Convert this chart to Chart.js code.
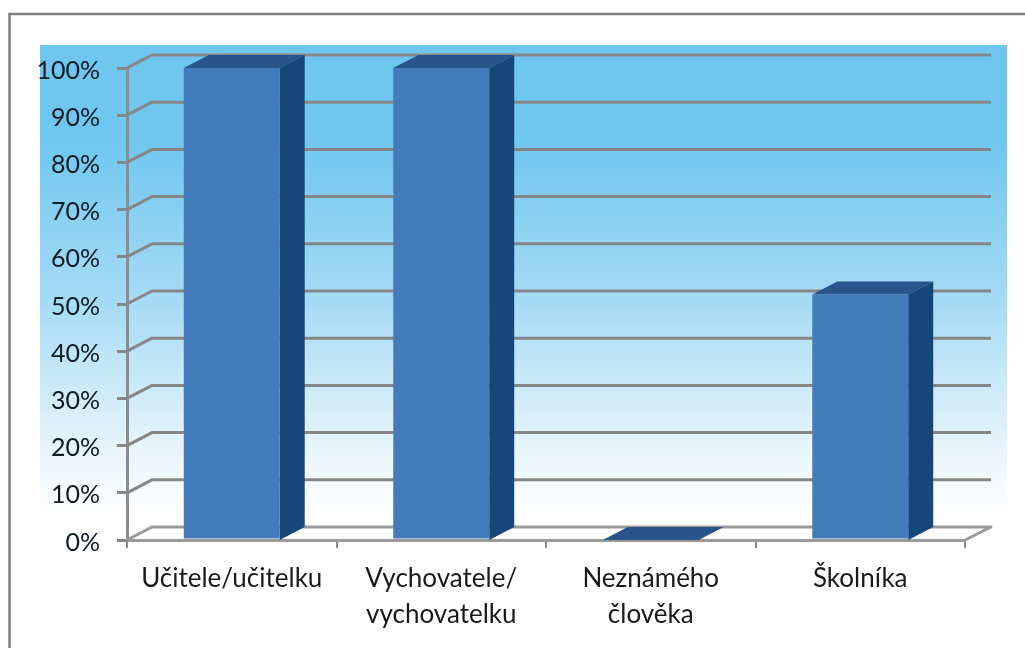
<!DOCTYPE html>
<html>
<head>
<meta charset="utf-8">
<script src="https://cdn.jsdelivr.net/npm/chart.js@4"></script>
<style>html,body{margin:0;padding:0;background:#fff}canvas{display:block}</style>
</head>
<body>
<canvas id="c" width="1025" height="648"></canvas>
<script>
const categories = [["Učitele/učitelku"], ["Vychovatele/", "vychovatelku"], ["Neznámého", "člověka"], ["Školníka"]];
const values = [100, 100, 0, 52];
const DX = 25, DY = -13;

const frame3d = {
  id: 'frame3d',
  beforeDraw(chart) {
    const c = chart.ctx;
    c.save();
    c.fillStyle = '#fff';
    c.fillRect(0, 0, 1025, 648);
    const g = c.createLinearGradient(0, 45, 0, 515);
    g.addColorStop(0, '#6EC5EE');
    g.addColorStop(0.2, '#6FC6EF');
    g.addColorStop(0.55, '#A6DBF5');
    g.addColorStop(0.85, '#E6F4FB');
    g.addColorStop(1, '#FFFFFF');
    c.fillStyle = g;
    c.fillRect(40, 45, 967, 470);
    c.strokeStyle = '#808080';
    c.lineWidth = 2.5;
    c.beginPath();
    c.moveTo(9.5, 648);
    c.lineTo(9.5, 14);
    c.lineTo(1025, 14);
    c.stroke();
    c.restore();
  },
  beforeDatasetsDraw(chart) {
    const c = chart.ctx, y = chart.scales.y, a = chart.chartArea;
    c.save();
    y.ticks.forEach(t => {
      const p = y.getPixelForValue(t.value);
      c.strokeStyle = t.value === 0 ? '#9A9A9A' : '#868686';
      c.lineWidth = 3;
      c.lineJoin = 'round';
      c.beginPath();
      c.moveTo(a.left, p);
      c.lineTo(a.left + DX, p + DY);
      c.lineTo(a.right + DX + 1, p + DY);
      if (t.value === 0) c.lineTo(a.right, p);
      c.stroke();
    });
    const meta = chart.getDatasetMeta(0);
    meta.data.forEach(b => {
      const w = b.width / 2, base = y.getPixelForValue(0);
      c.fillStyle = '#28568C';
      c.beginPath();
      c.moveTo(b.x - w, b.y);
      c.lineTo(b.x - w + DX, b.y + DY);
      c.lineTo(b.x + w + DX, b.y + DY);
      c.lineTo(b.x + w, b.y);
      c.closePath();
      c.fill();
      if (base - b.y > 0.5) {
        c.fillStyle = '#16477A';
        c.beginPath();
        c.moveTo(b.x + w, b.y);
        c.lineTo(b.x + w + DX, b.y + DY);
        c.lineTo(b.x + w + DX, base + DY);
        c.lineTo(b.x + w, base);
        c.closePath();
        c.fill();
      }
    });
    c.restore();
  }
};

new Chart(document.getElementById('c'), {
  type: 'bar',
  data: {
    labels: categories,
    datasets: [{
      data: values,
      backgroundColor: '#437BBB',
      borderWidth: 0,
      barPercentage: 0.458,
      categoryPercentage: 1
    }]
  },
  plugins: [frame3d],
  options: {
    responsive: false,
    animation: false,
    layout: { padding: { top: 68, right: 60, left: 0, bottom: 0 } },
    plugins: { legend: { display: false }, tooltip: { enabled: false } },
    scales: {
      x: {
        offset: true,
        afterFit(s) { s.height = 108; },
        grid: { offset: true, drawOnChartArea: false, drawTicks: true, tickLength: 8, color: '#8A8A8A', lineWidth: 2 },
        border: { display: true, color: '#9A9A9A', width: 3 },
        ticks: { color: '#1A1A1A', font: { family: 'Lato', size: 26, lineHeight: 1.4 }, padding: 12, maxRotation: 0, autoSkip: false }
      },
      y: {
        min: 0,
        max: 100,
        afterFit(s) { s.width = 127; },
        grid: { drawOnChartArea: false, drawTicks: true, tickLength: 10, color: '#868686', lineWidth: 3 },
        border: { display: true, color: '#8C8C8C', width: 3 },
        ticks: {
          stepSize: 10,
          color: '#0E1A24',
          padding: 17,
          labelOffset: 2.5,
          font: { family: 'Lato', size: 25 },
          callback: v => v + '%'
        }
      }
    }
  }
});
</script>
</body>
</html>
